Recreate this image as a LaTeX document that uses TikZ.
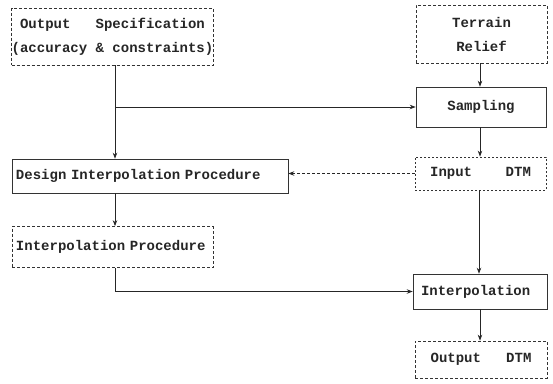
\documentclass[tikz,border=0pt]{standalone}
\usepackage{fontspec}
\setmonofont{Liberation Mono}
\usetikzlibrary{arrows.meta}
\begin{document}
\begin{tikzpicture}[x=1pt,y=-1pt,
  lbl/.style={font=\ttfamily\bfseries\fontsize{14}{24}\selectfont, text=black!85, align=center, inner sep=0pt},
  solidbox/.style={lbl, draw=black!80, line width=0.6pt, rectangle},
  dashbox/.style={lbl, draw=black!80, line width=0.7pt, dash pattern=on 3pt off 2pt, rectangle},
  dotbox/.style={lbl, draw=black!80, line width=0.7pt, dash pattern=on 2pt off 2pt, rectangle},
  flow/.style={draw=black!85, line width=0.8pt, -{Stealth[length=6pt,width=4.5pt]}},
  dflow/.style={flow, dash pattern=on 3pt off 2pt}]
\useasboundingbox (0,0) rectangle (553,383);

% boxes
\node[dashbox, minimum width=201pt, minimum height=57pt] (spec) at (112.5,36.5)
  {Output\ \ \ Specification\\(accuracy \& constraints)};
\node[dashbox, minimum width=131pt, minimum height=58pt] (terrain) at (481.5,34)
  {Terrain\\Relief};
\node[solidbox, minimum width=130pt, minimum height=40pt] (sampling) at (481,107)
  {Sampling};
\node[solidbox, minimum width=276pt, minimum height=34pt, text width=268pt, align=left] (design) at (150,176)
  {Design Interpolation Procedure};
\node[dotbox, minimum width=131pt, minimum height=33pt] (input) at (480.5,173.5)
  {Input\ \ \ \ DTM};
\node[dashbox, minimum width=201pt, minimum height=41pt, text width=193pt, align=left] (iproc) at (112.5,247)
  {Interpolation Procedure};
\node[solidbox, minimum width=134pt, minimum height=35pt, text width=118pt, align=left] (interp) at (480,291.5)
  {Interpolation};
\node[dashbox, minimum width=132pt, minimum height=37pt] (outdtm) at (481,359.5)
  {Output\ \ \ DTM};

\coordinate (split) at (115,107);

% connectors
\draw[flow] (spec.south -| split) -- (design.north -| split);
\draw[flow] (split) -- (sampling.west);
\draw[flow] (terrain.south -| 480,0) -- (sampling.north -| 480,0);
\draw[flow] (sampling.south -| 480,0) -- (input.north -| 480,0);
\draw[dflow] (input.west) -- (input.west -| design.east);
\draw[flow] (design.south -| 115,0) -- (iproc.north -| 115,0);
\draw[flow] (input.south -| 479,0) -- (interp.north -| 479,0);
\draw[flow] (iproc.south -| 115,0) |- (interp.west);
\draw[flow] (interp.south -| 480,0) -- (outdtm.north -| 480,0);
\end{tikzpicture}
\end{document}
